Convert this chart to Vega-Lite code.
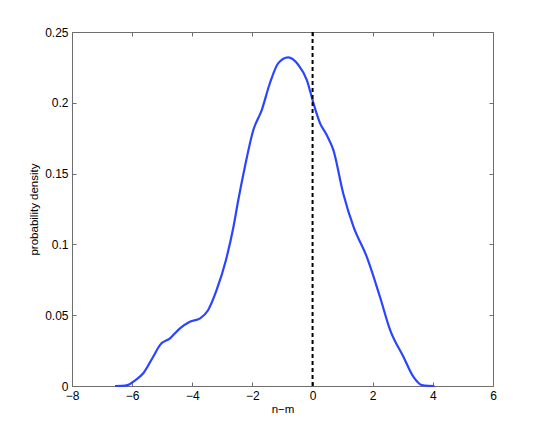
{
  "$schema": "https://vega.github.io/schema/vega-lite/v6.json",
  "width": 421,
  "height": 354,
  "autosize": "none",
  "padding": {"left": 72, "top": 32, "right": 52, "bottom": 48},
  "background": "white",
  "config": {
    "font": "Liberation Sans",
    "view": {"stroke": null},
    "axis": {
      "grid": false,
      "domainColor": "#6e6e6e",
      "tickColor": "#6e6e6e",
      "tickSize": -4,
      "labelFontSize": 12,
      "labelColor": "#000",
      "titleFontSize": 11.5,
      "titleFontWeight": "normal",
      "titleColor": "#000"
    }
  },
  "datasets": {
    "curve": [
      {"x": -6.57, "y": 0},
      {"x": -6.35, "y": 0.0001},
      {"x": -6.13, "y": 0.0008},
      {"x": -5.9, "y": 0.004},
      {"x": -5.63, "y": 0.009},
      {"x": -5.3, "y": 0.0207},
      {"x": -5.07, "y": 0.029},
      {"x": -4.74, "y": 0.0337},
      {"x": -4.41, "y": 0.0407},
      {"x": -4.08, "y": 0.0454},
      {"x": -3.74, "y": 0.0478},
      {"x": -3.47, "y": 0.0537},
      {"x": -3.19, "y": 0.0678},
      {"x": -2.88, "y": 0.089},
      {"x": -2.63, "y": 0.1125},
      {"x": -2.47, "y": 0.1314},
      {"x": -2.25, "y": 0.1549},
      {"x": -1.97, "y": 0.1808},
      {"x": -1.69, "y": 0.1949},
      {"x": -1.42, "y": 0.2138},
      {"x": -1.14, "y": 0.228},
      {"x": -0.81, "y": 0.2321},
      {"x": -0.47, "y": 0.2267},
      {"x": -0.19, "y": 0.2161},
      {"x": 0.03, "y": 0.1996},
      {"x": 0.25, "y": 0.1855},
      {"x": 0.47, "y": 0.1773},
      {"x": 0.69, "y": 0.1667},
      {"x": 1.02, "y": 0.136},
      {"x": 1.36, "y": 0.1125},
      {"x": 1.8, "y": 0.0913},
      {"x": 2.24, "y": 0.063},
      {"x": 2.58, "y": 0.0395},
      {"x": 3.02, "y": 0.0207},
      {"x": 3.35, "y": 0.0066},
      {"x": 3.63, "y": 0.0007},
      {"x": 3.85, "y": 0.0001},
      {"x": 4.05, "y": 0}
    ]
  },
  "layer": [
    {
      "data": {"name": "curve"},
      "mark": {"type": "line", "color": "#2a45ff", "strokeWidth": 2.2, "interpolate": "monotone"},
      "encoding": {
        "x": {
          "field": "x", "type": "quantitative",
          "scale": {"domain": [-8, 6], "nice": false, "zero": false},
          "axis": {"values": [-8, -6, -4, -2, 0, 2, 4, 6], "title": "n−m", "titlePadding": 2, "labelPadding": 8, "labelFlush": false}
        },
        "y": {
          "field": "y", "type": "quantitative",
          "scale": {"domain": [0, 0.25], "nice": false},
          "axis": {"values": [0, 0.05, 0.1, 0.15, 0.2, 0.25], "format": "~g", "title": "probability density", "titlePadding": 5, "labelPadding": 8}
        }
      }
    },
    {
      "data": {"values": [{"x": 0}]},
      "mark": {"type": "rule", "color": "#000", "strokeWidth": 2, "strokeDash": [4, 3]},
      "encoding": {
        "x": {
          "field": "x", "type": "quantitative",
          "axis": {"orient": "top", "values": [-8, -6, -4, -2, 0, 2, 4, 6], "labels": false, "title": null}
        },
        "y": {"datum": 0, "type": "quantitative", "axis": {"orient": "right", "values": [0, 0.05, 0.1, 0.15, 0.2, 0.25], "labels": false, "title": null}},
        "y2": {"datum": 0.25}
      }
    }
  ],
  "resolve": {"axis": {"x": "independent", "y": "independent"}}
}
